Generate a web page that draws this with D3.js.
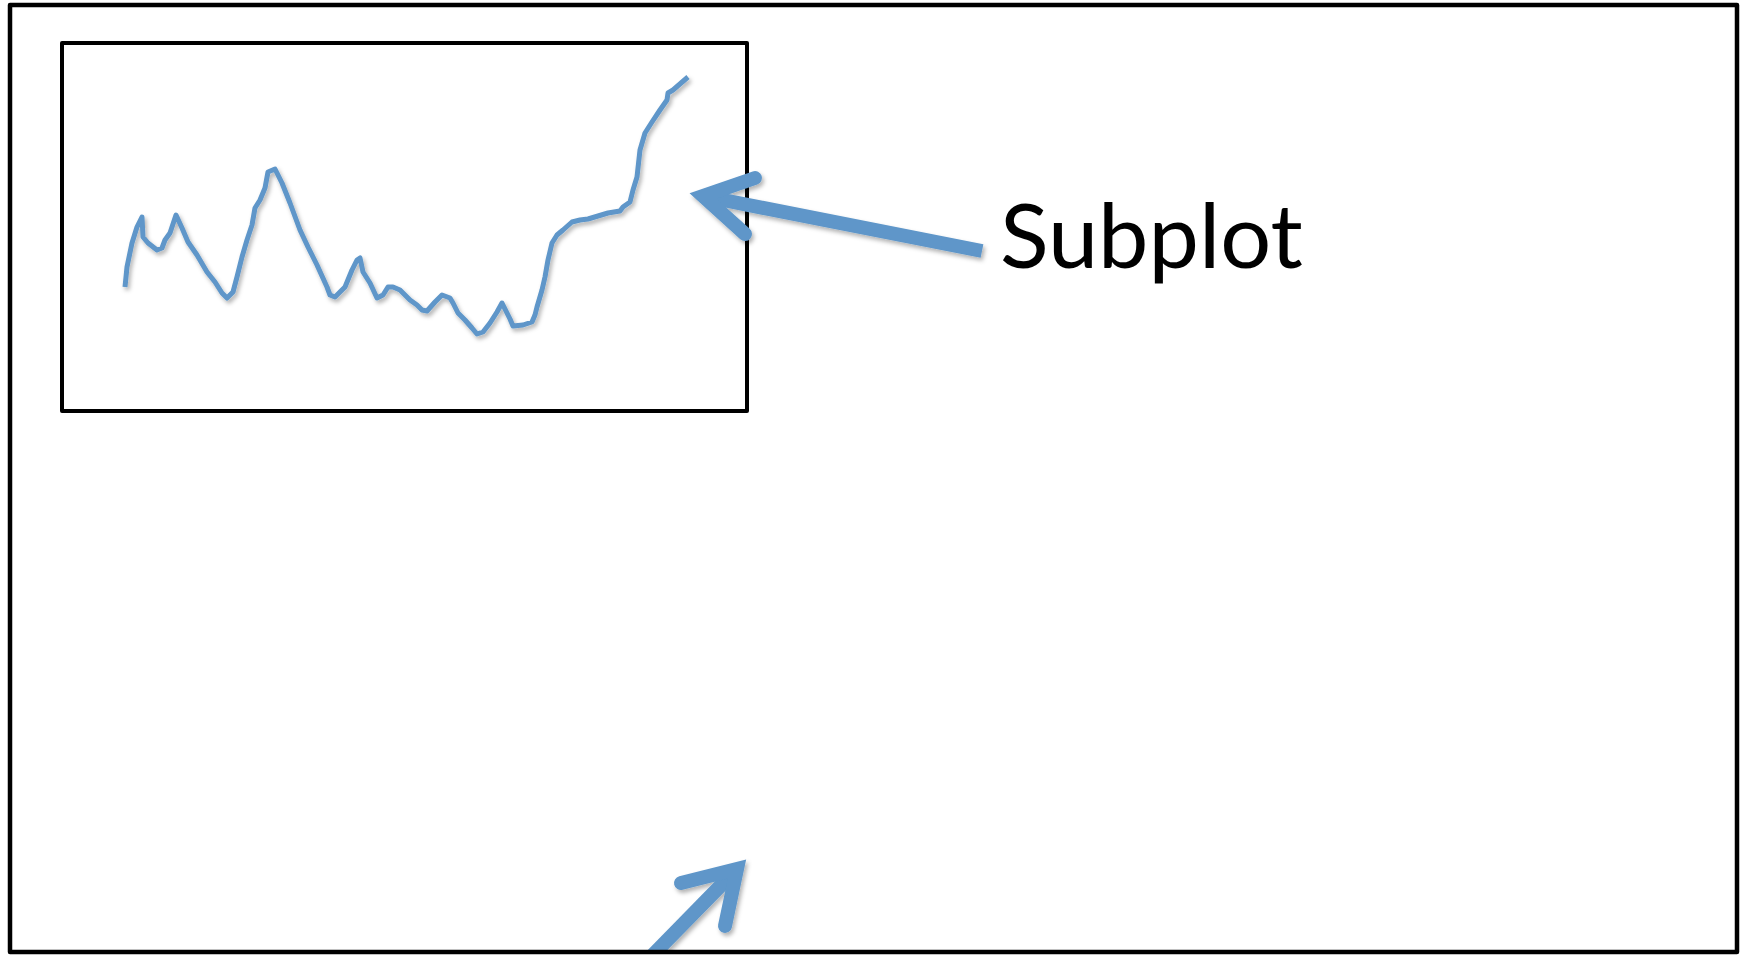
<!DOCTYPE html>
<html lang="en">
<head>
<meta charset="utf-8">
<title>Subplot</title>
<script src="https://d3js.org/d3.v7.min.js"></script>
<style>
  html, body { margin: 0; padding: 0; background: #fff; }
  .label-styling { font-family: Lato, 'Open Sans', sans-serif; font-size: 90px; fill: #000; }
</style>
</head>
<body>
<div id="my_dataviz"></div>
<script>
// series values (inner box units)
var xVals = [63,65,70,75,80,81,86,95,100,103,108,114,120,126,135,145,153,160,165,171,
  175,180,185,190,193,198,203,206,213,220,228,238,246,255,265,268,273,283,290,295,
  298,301,308,315,321,326,331,338,348,355,360,365,373,380,388,391,396,403,410,415,
  421,428,435,440,445,448,451,461,470,473,475,480,483,486,490,495,501,510,518,526,
  536,546,558,561,568,571,575,578,583,590,598,605,606,611,626];
var yVals = [124,144,168,184,194,174,168,161,163,171,178,196,183,169,156,139,129,118,113,119,
  134,154,171,186,203,211,223,239,242,228,208,181,164,146,124,116,114,124,141,151,
  153,139,128,113,116,124,124,121,111,106,101,100,109,116,113,108,98,91,83,77,
  79,88,99,108,98,92,85,86,89,96,104,121,134,151,168,176,181,189,191,192,
  195,198,200,204,209,221,234,261,278,289,301,311,318,321,334];
var labelText = "Subplot";

var width = 1750, height = 956;
var color = "#5E96C9";

var svg = d3.select("#my_dataviz")
  .append("svg")
    .attr("width", width)
    .attr("height", height)
    .style("display", "block");

// soft shadow under the blue shapes
var defs = svg.append("defs");
defs.append("filter")
    .attr("id", "shadow")
    .attr("x", "-20%").attr("y", "-20%").attr("width", "140%").attr("height", "140%")
  .append("feDropShadow")
    .attr("dx", 2).attr("dy", 3).attr("stdDeviation", 2)
    .attr("flood-color", "#000").attr("flood-opacity", 0.3);
defs.append("clipPath").attr("id", "page")
  .append("rect").attr("x", 0).attr("y", 0).attr("width", width).attr("height", 951);

// inner plot area
var x = d3.scaleLinear().domain([0, 685]).range([62, 747]);
var y = d3.scaleLinear().domain([0, 368]).range([411, 43]);

var data = xVals.map(function(d, i) { return {x: d, y: yVals[i]}; });

svg.append("path")
  .datum(data)
    .attr("fill", "none")
    .attr("stroke", color)
    .attr("stroke-width", 5)
    .attr("stroke-linejoin", "round")
    .attr("stroke-linecap", "butt")
    .attr("filter", "url(#shadow)")
    .attr("d", d3.line().x(d => x(d.x)).y(d => y(d.y)));

// inner box
svg.append("rect")
    .attr("x", x(0)).attr("y", y(368))
    .attr("width", x(685) - x(0)).attr("height", y(0) - y(368))
    .attr("fill", "none")
    .attr("stroke", "#000")
    .attr("stroke-width", 4)
    .attr("stroke-linejoin", "round");

// arrows: tail, head vertex, barb ends
var arrows = [
  {tail: [982, 251], head: [703, 196], b1: [755, 178], b2: [745, 234]},
  {tail: [640, 968], head: [737, 869], b1: [681, 883], b2: [725, 926]}
];

var ag = svg.append("g").attr("clip-path", "url(#page)").attr("filter", "url(#shadow)");
arrows.forEach(function(a) {
  ag.append("line")
      .attr("x1", a.tail[0]).attr("y1", a.tail[1])
      .attr("x2", a.head[0]).attr("y2", a.head[1])
      .attr("stroke", color).attr("stroke-width", 14)
      .attr("stroke-linecap", "butt");
  ag.append("path")
      .attr("d", d3.line()([a.b1, a.head, a.b2]))
      .attr("fill", "none")
      .attr("stroke", color).attr("stroke-width", 14)
      .attr("stroke-linecap", "round")
      .attr("stroke-linejoin", "miter")
      .attr("stroke-miterlimit", 10);
});

svg.append("text")
    .attr("class", "label-styling")
    .attr("x", 1000)
    .attr("y", 268)
    .text(labelText);

// outer frame
svg.append("rect")
    .attr("x", 10).attr("y", 5)
    .attr("width", 1727).attr("height", 947)
    .attr("fill", "none")
    .attr("stroke", "#000")
    .attr("stroke-width", 4.5)
    .attr("stroke-linejoin", "round");
</script>
</body>
</html>
